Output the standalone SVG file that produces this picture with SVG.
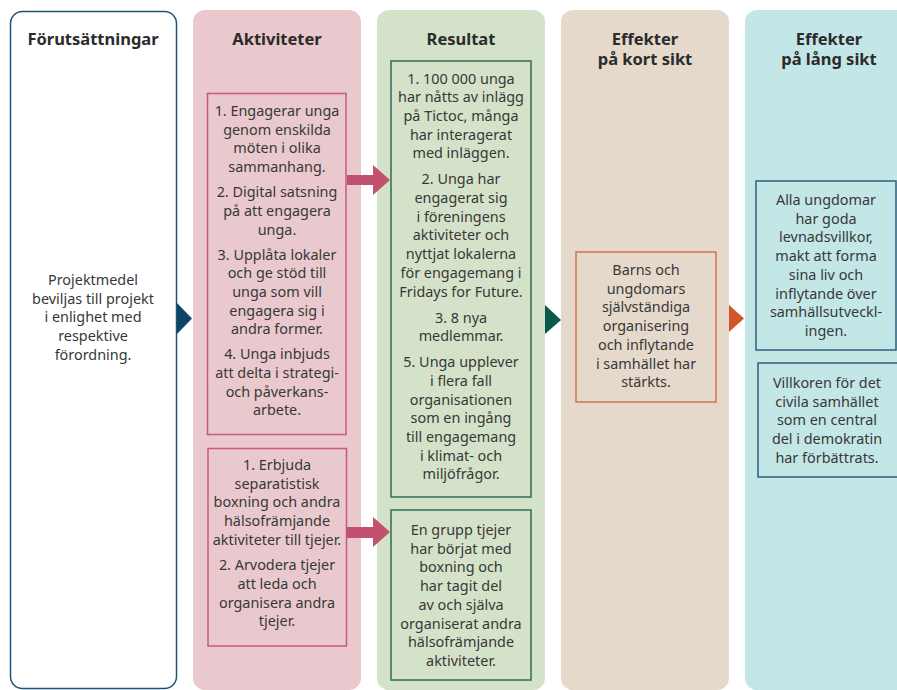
<svg xmlns="http://www.w3.org/2000/svg" width="897" height="690" viewBox="0 0 897 690">
<style>
.hd{font-family:"Noto Sans","DejaVu Sans",sans-serif;font-size:16.5px;font-weight:bold;fill:#2b2b2b;text-anchor:middle}
.tx{font-family:"Noto Sans","DejaVu Sans",sans-serif;font-size:14.4px;fill:#383838;text-anchor:middle}
.bA{fill:none;stroke:#c9587c;stroke-width:1.5}
.bR{fill:none;stroke:#2f6e57;stroke-width:1.5}
.bE{fill:none;stroke:#d0714d;stroke-width:1.5}
.bL{fill:none;stroke:#2f5f80;stroke-width:1.5}
</style>
<rect width="897" height="690" fill="#ffffff"/>
<g id="col-forutsattningar">
<rect x="10.5" y="11.5" width="166" height="677" rx="12" fill="#ffffff" stroke="#1e5478" stroke-width="1.5"/>
<text class="hd" x="93" y="45">Förutsättningar</text>
<text class="tx" x="93" y="285"><tspan x="93">Projektmedel</tspan><tspan x="93" dy="18.7">beviljas till projekt</tspan><tspan x="93" dy="18.7">i enlighet med</tspan><tspan x="93" dy="18.7">respektive</tspan><tspan x="93" dy="18.7">förordning.</tspan></text>
</g>
<g id="col-aktiviteter">
<rect x="193" y="10" width="168" height="680" rx="12" fill="#e9c9cd"/>
<text class="hd" x="277" y="45">Aktiviteter</text>
</g>
<g id="col-resultat">
<rect x="377" y="10" width="168" height="680" rx="12" fill="#d4e2c9"/>
<text class="hd" x="461" y="45">Resultat</text>
</g>
<g id="col-kort">
<rect x="561" y="10" width="168" height="680" rx="12" fill="#e4d9cb"/>
<text class="hd" x="645" y="45"><tspan x="645">Effekter</tspan><tspan x="645" dy="20">på kort sikt</tspan></text>
</g>
<g id="col-lang">
<rect x="745" y="10" width="168" height="680" rx="12" fill="#c3e6e6"/>
<text class="hd" x="829" y="45"><tspan x="829">Effekter</tspan><tspan x="829" dy="20">på lång sikt</tspan></text>
</g>
<g id="node-a1">
<rect class="bA" x="207.5" y="93.5" width="138.5" height="341"/>
<text class="tx" x="277" y="116"><tspan x="277">1. Engagerar unga</tspan><tspan x="277" dy="18.7">genom enskilda</tspan><tspan x="277" dy="18.7">möten i olika</tspan><tspan x="277" dy="18.7">sammanhang.</tspan><tspan x="277" dy="25">2. Digital satsning</tspan><tspan x="277" dy="18.7">på att engagera</tspan><tspan x="277" dy="18.7">unga.</tspan><tspan x="277" dy="25">3. Upplåta lokaler</tspan><tspan x="277" dy="18.7">och ge stöd till</tspan><tspan x="277" dy="18.7">unga som vill</tspan><tspan x="277" dy="18.7">engagera sig i</tspan><tspan x="277" dy="18.7">andra former.</tspan><tspan x="277" dy="25">4. Unga inbjuds</tspan><tspan x="277" dy="18.7">att delta i strategi-</tspan><tspan x="277" dy="18.7">och påverkans-</tspan><tspan x="277" dy="18.7">arbete.</tspan></text>
</g>
<g id="node-a2">
<rect class="bA" x="208" y="448.5" width="138.5" height="197.5"/>
<text class="tx" x="277" y="470"><tspan x="277">1. Erbjuda</tspan><tspan x="277" dy="18.7">separatistisk</tspan><tspan x="277" dy="18.7">boxning och andra</tspan><tspan x="277" dy="18.7">hälsofrämjande</tspan><tspan x="277" dy="18.7">aktiviteter till tjejer.</tspan><tspan x="277" dy="25.5">2. Arvodera tjejer</tspan><tspan x="277" dy="18.7">att leda och</tspan><tspan x="277" dy="18.7">organisera andra</tspan><tspan x="277" dy="18.7">tjejer.</tspan></text>
</g>
<g id="node-r1">
<rect class="bR" x="391" y="61" width="140" height="436"/>
<text class="tx" x="461" y="83.5"><tspan x="461">1. 100 000 unga</tspan><tspan x="461" dy="18.7">har nåtts av inlägg</tspan><tspan x="461" dy="18.7">på Tictoc, många</tspan><tspan x="461" dy="18.7">har interagerat</tspan><tspan x="461" dy="18.7">med inläggen.</tspan><tspan x="461" dy="26">2. Unga har</tspan><tspan x="461" dy="18.7">engagerat sig</tspan><tspan x="461" dy="18.7">i föreningens</tspan><tspan x="461" dy="18.7">aktiviteter och</tspan><tspan x="461" dy="18.7">nyttjat lokalerna</tspan><tspan x="461" dy="18.7">för engagemang i</tspan><tspan x="461" dy="18.7">Fridays for Future.</tspan><tspan x="461" dy="26">3. 8 nya</tspan><tspan x="461" dy="18.7">medlemmar.</tspan><tspan x="461" dy="26">5. Unga upplever</tspan><tspan x="461" dy="18.7">i flera fall</tspan><tspan x="461" dy="18.7">organisationen</tspan><tspan x="461" dy="18.7">som en ingång</tspan><tspan x="461" dy="18.7">till engagemang</tspan><tspan x="461" dy="18.7">i klimat- och</tspan><tspan x="461" dy="18.7">miljöfrågor.</tspan></text>
</g>
<g id="node-r2">
<rect class="bR" x="391" y="510" width="140" height="170"/>
<text class="tx" x="461" y="535"><tspan x="461">En grupp tjejer</tspan><tspan x="461" dy="18.7">har börjat med</tspan><tspan x="461" dy="18.7">boxning och</tspan><tspan x="461" dy="18.7">har tagit del</tspan><tspan x="461" dy="18.7">av och själva</tspan><tspan x="461" dy="18.7">organiserat andra</tspan><tspan x="461" dy="18.7">hälsofrämjande</tspan><tspan x="461" dy="18.7">aktiviteter.</tspan></text>
</g>
<g id="node-e1">
<rect class="bE" x="576" y="252" width="140" height="150"/>
<text class="tx" x="646" y="275"><tspan x="646">Barns och</tspan><tspan x="646" dy="18.7">ungdomars</tspan><tspan x="646" dy="18.7">självständiga</tspan><tspan x="646" dy="18.7">organisering</tspan><tspan x="646" dy="18.7">och inflytande</tspan><tspan x="646" dy="18.7">i samhället har</tspan><tspan x="646" dy="18.7">stärkts.</tspan></text>
</g>
<g id="node-l1">
<rect class="bL" x="756" y="181" width="140" height="169"/>
<text class="tx" x="826" y="205"><tspan x="826">Alla ungdomar</tspan><tspan x="826" dy="18.7">har goda</tspan><tspan x="826" dy="18.7">levnadsvillkor,</tspan><tspan x="826" dy="18.7">makt att forma</tspan><tspan x="826" dy="18.7">sina liv och</tspan><tspan x="826" dy="18.7">inflytande över</tspan><tspan x="826" dy="18.7">samhällsutveckl-</tspan><tspan x="826" dy="18.7">ingen.</tspan></text>
</g>
<g id="node-l2">
<rect class="bL" x="758" y="363" width="150" height="114"/>
<text class="tx" x="827" y="388"><tspan x="827">Villkoren för det</tspan><tspan x="827" dy="18.7">civila samhället</tspan><tspan x="827" dy="18.7">som en central</tspan><tspan x="827" dy="18.7">del i demokratin</tspan><tspan x="827" dy="18.7">har förbättrats.</tspan></text>
</g>
<g id="connectors">
<polygon points="177,303 192,318.5 177,334" fill="#0e4466"/>
<polygon points="347,175 373,175 373,165 390,180 373,195 373,185 347,185" fill="#c2506f"/>
<polygon points="347,527 373,527 373,517 390,532 373,547 373,538 347,538" fill="#c2506f"/>
<polygon points="545,305 561,320 545,334" fill="#0b5a4a"/>
<polygon points="729,305 744,318.5 729,332" fill="#d0552a"/>
</g>
</svg>
